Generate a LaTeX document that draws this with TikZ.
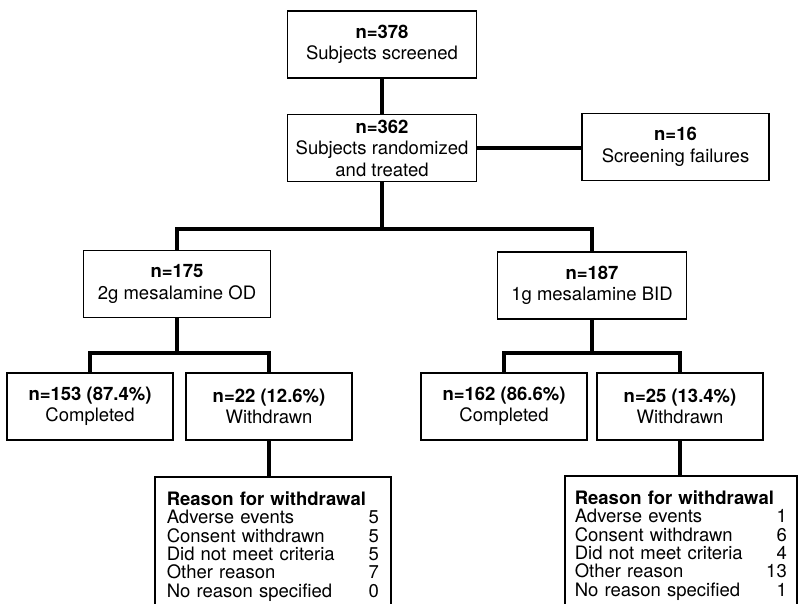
\documentclass[tikz,border=0pt]{standalone}
\usepackage{fontspec}
\setmainfont{TeX Gyre Heros}

\tikzset{
    box/.style={draw, line width=1.6pt, inner sep=0pt, align=center,
        minimum width=189, minimum height=67,
        font=\fontsize{18.5}{21.5}\selectfont},
    outcome/.style={box, minimum width=166},
    reasonbox/.style={draw, line width=1.6pt, anchor=north west,
        inner xsep=12pt, inner ysep=15pt, align=left, text width=212pt,
        font=\fontsize{18.5}{18.3}\selectfont},
    link/.style={line width=4pt}
}

\newcommand{\reasonlist}[5]{%
    \textbf{Reason for withdrawal}\\
    Adverse events\hfill #1\\
    Consent withdrawn\hfill #2\\
    Did not meet criteria\hfill #3\\
    Other reason\hfill #4\\
    No reason specified\hfill #5}

\begin{document}
\begin{tikzpicture}[x=1pt,y=-1pt]

        \useasboundingbox (0,0) rectangle (802,603);

        \node [box] (screened) at (382,44.5) {\textbf{n=378}\\Subjects screened};
        \node [box] (random) at (382,148) {\textbf{n=362}\\Subjects randomized\\and treated};
        \node [box, minimum width=187] (fail) at (675.5,147) {\textbf{n=16}\\Screening failures};

        \node [box, minimum width=187] (od) at (177,284) {\textbf{n=175}\\2g mesalamine OD};
        \node [box] (bid) at (592,285.5) {\textbf{n=187}\\1g mesalamine BID};

        \node [outcome] (compOD) at (90,406.5) {\textbf{n=153 (87.4\%)}\\Completed};
        \node [outcome] (wdOD) at (269,406.5) {\textbf{n=22 (12.6\%)}\\Withdrawn};
        \node [outcome] (compBID) at (504,406.5) {\textbf{n=162 (86.6\%)}\\Completed};
        \node [outcome] (wdBID) at (680,406.5) {\textbf{n=25 (13.4\%)}\\Withdrawn};

        \node [reasonbox] (rsnOD) at (154,476) {\reasonlist{5}{5}{5}{7}{0}};
        \node [reasonbox, inner xsep=10pt] (rsnBID) at (564,475) {\reasonlist{1}{6}{4}{13}{1}};

        \coordinate (armsplit) at (382,229);
        \coordinate (odsplit) at (177,353);
        \coordinate (bidsplit) at (592,353);

        \draw [link] (screened) -- (random);
        \draw [link] (random.east) -- (random.east -| fail.west);
        \draw [link] (random) -- (armsplit);
        \draw [link] (od.north) |- (armsplit) -| (bid.north);
        \draw [link] (od) -- (odsplit);
        \draw [link] (compOD.north) |- (odsplit) -| (wdOD.north);
        \draw [link] (bid) -- (bidsplit);
        \draw [link] (compBID.north) |- (bidsplit) -| (wdBID.north);
        \draw [link] (wdOD.south) -- (wdOD.south |- rsnOD.north);
        \draw [link] (wdBID.south) -- (wdBID.south |- rsnBID.north);

    \end{tikzpicture}
\end{document}
